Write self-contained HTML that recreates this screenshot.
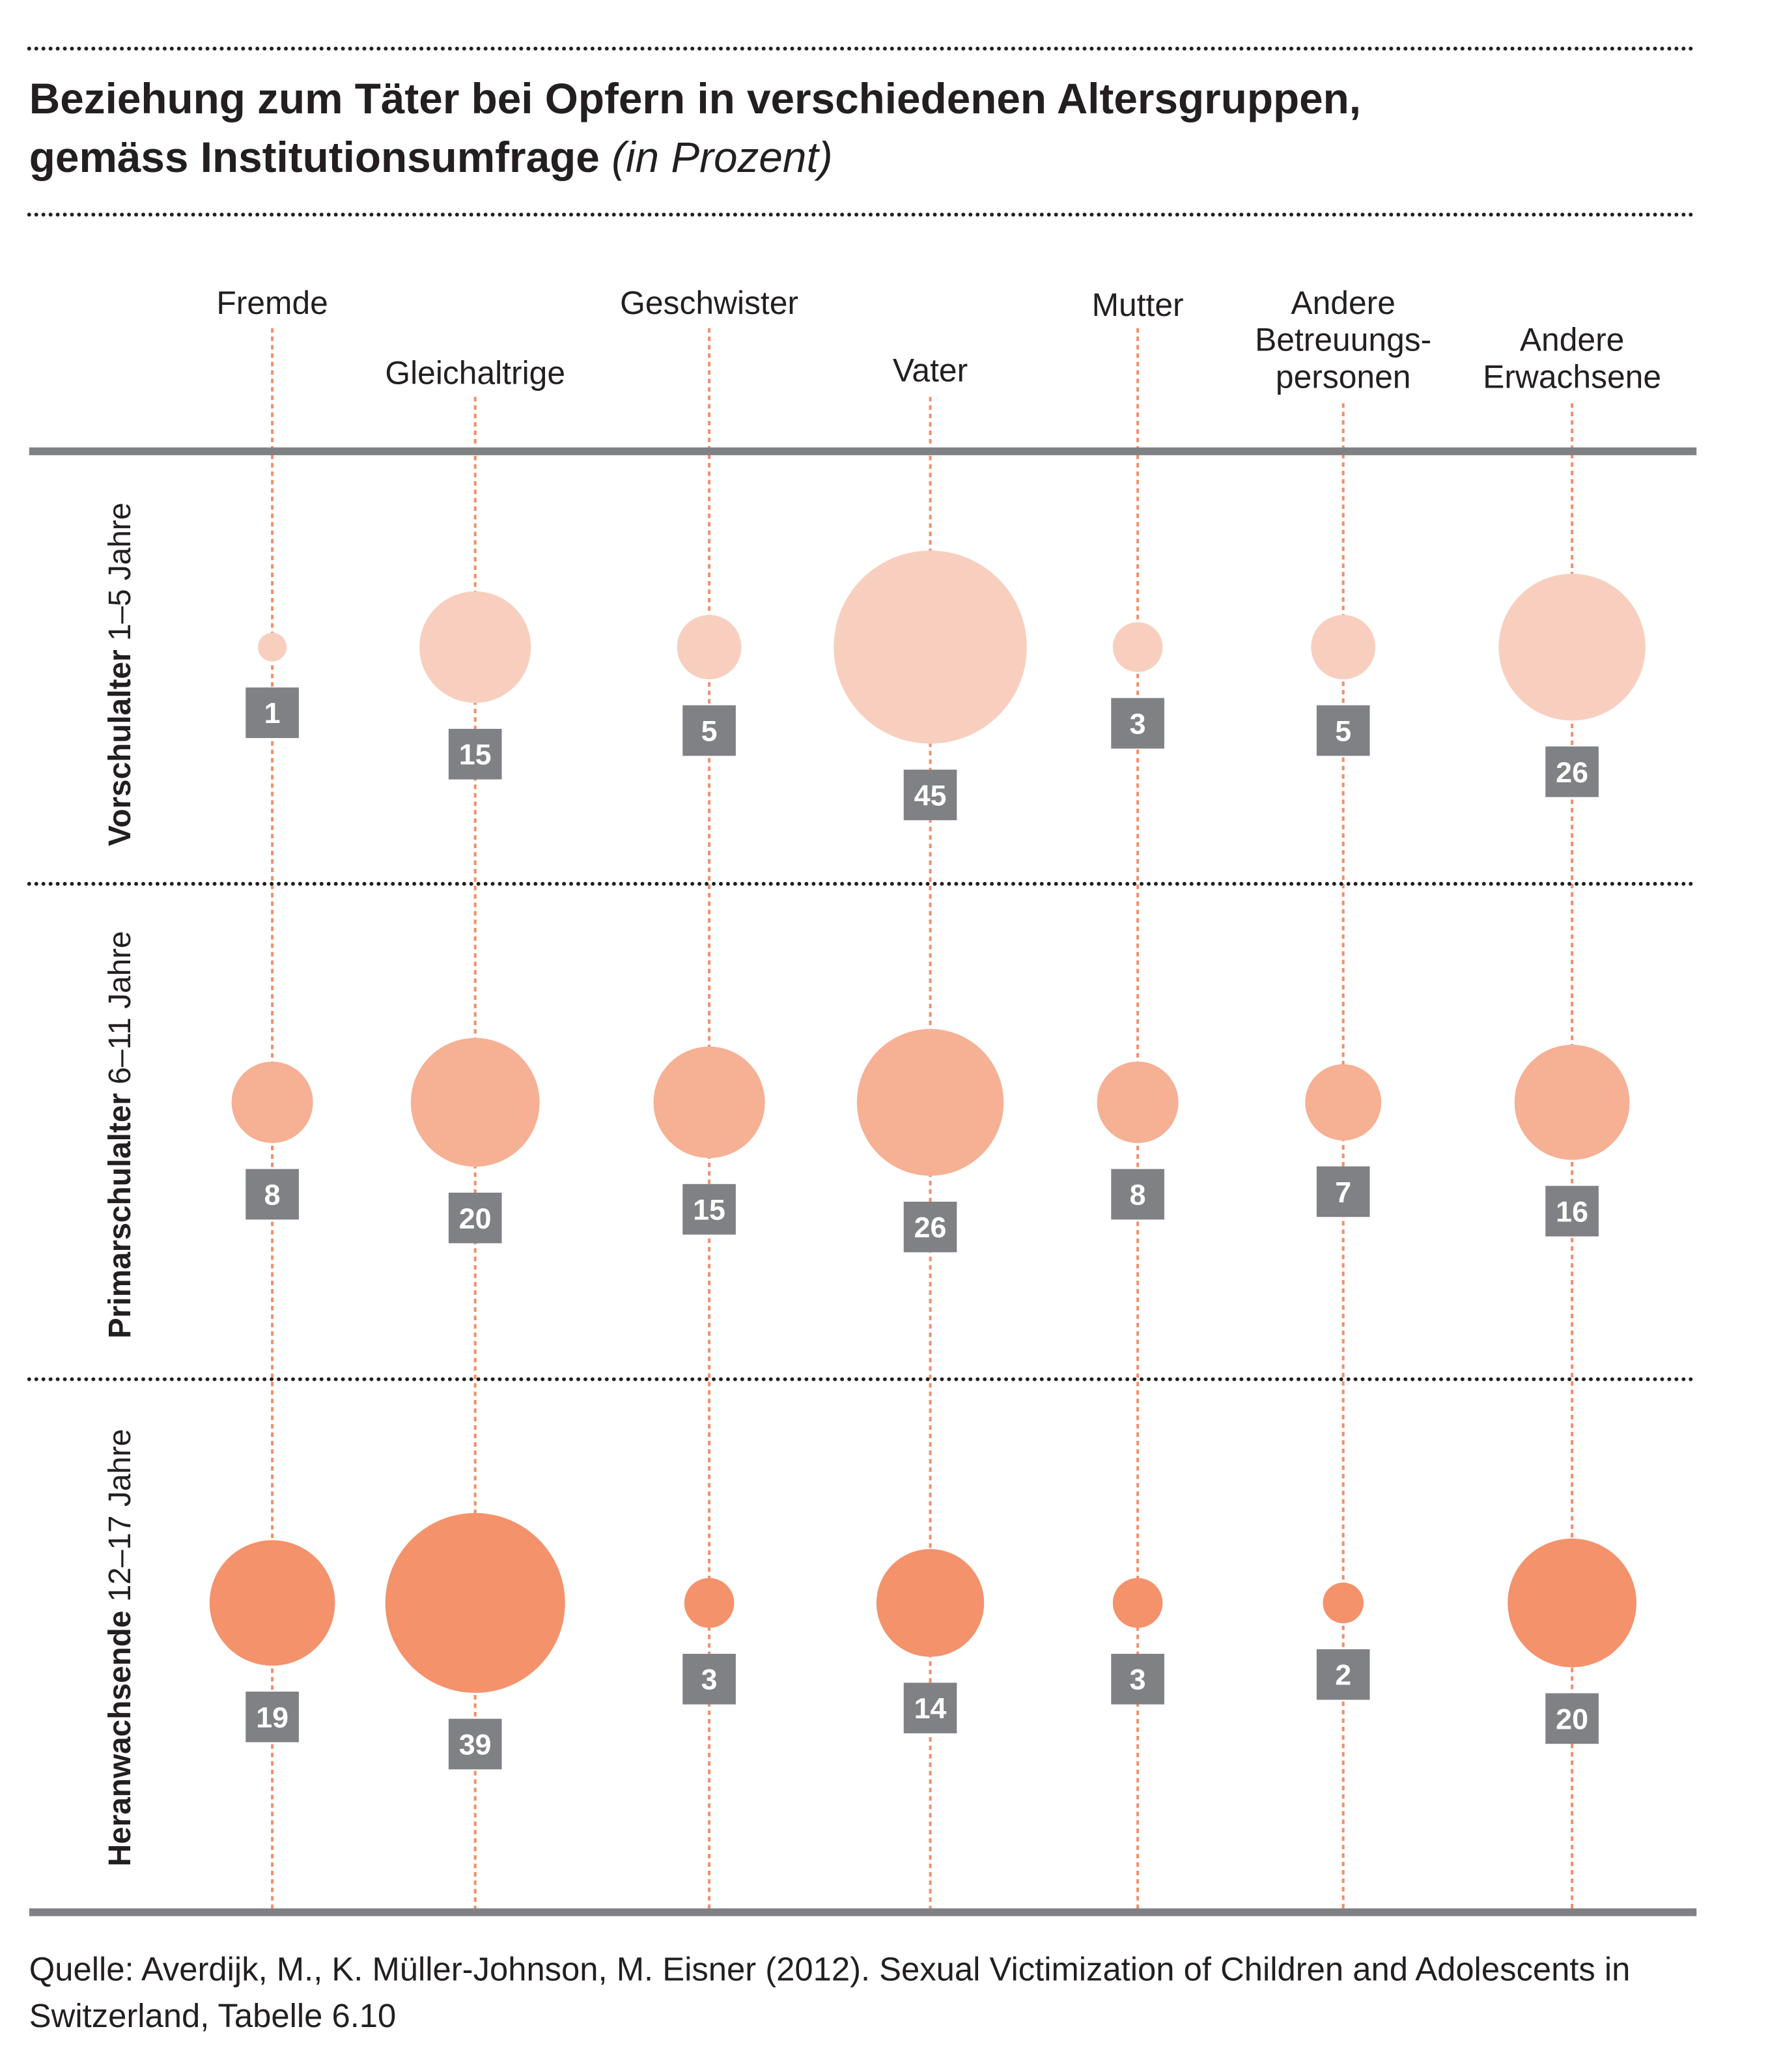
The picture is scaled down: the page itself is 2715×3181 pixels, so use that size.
<!DOCTYPE html>
<html><head><meta charset="utf-8">
<style>
html,body{margin:0;padding:0;background:#fff}
svg{display:block;font-family:"Liberation Sans",sans-serif}
</style></head>
<body>
<svg id="chart" width="2715" height="3181" viewBox="0 0 2715 3181" xmlns="http://www.w3.org/2000/svg">
<g transform="scale(0.9955)">
<line x1="45" y1="75" x2="2617" y2="75" stroke="#231f20" stroke-width="6" stroke-dasharray="0 11" stroke-linecap="round"/>
<text x="45" y="175" font-size="66" font-weight="bold" fill="#231f20">Beziehung zum Täter bei Opfern in verschiedenen Altersgruppen,</text>
<text x="45" y="265" font-size="66" font-weight="bold" fill="#231f20">gemäss Institutionsumfrage <tspan font-weight="normal" font-style="italic">(in Prozent)</tspan></text>
<line x1="45" y1="331" x2="2617" y2="331" stroke="#231f20" stroke-width="6" stroke-dasharray="0 11" stroke-linecap="round"/>
<g id="g"></g>
<text x="45" y="3054" font-size="51" fill="#231f20">Quelle: Averdijk, M., K. Müller-Johnson, M. Eisner (2012). Sexual Victimization of Children and Adolescents in</text>
<text x="45" y="3126" font-size="51" fill="#231f20">Switzerland, Tabelle 6.10</text>
</g>
</svg>
<script>
const categories = ["Fremde","Gleichaltrige","Geschwister","Vater","Mutter","Andere Betreuungspersonen","Andere Erwachsene"];
const ageGroups = ["Vorschulalter","Primarschulalter","Heranwachsende"];
const ageRanges = ["1–5 Jahre","6–11 Jahre","12–17 Jahre"];
const preschool = [1,15,5,45,3,5,26];
const primary = [8,20,15,26,8,7,16];
const teens = [19,39,3,14,3,2,20];
const series = [preschool, primary, teens];

const NS = "http://www.w3.org/2000/svg";
const g = document.getElementById('g');
function mk(t, a){const e=document.createElementNS(NS,t);for(const k in a)e.setAttribute(k,a[k]);g.appendChild(e);return e;}
const colX = [420,733,1094,1435,1755,2072,2425];
const x = i => colX[i];
const rowY = [998,1700,2472];
const y = r => rowY[r];
const rScale = v => 22.2*Math.sqrt(v);
const fills = ["#f8cfbf","#f6b094","#f4926c"];
const headerLines = [["Fremde"],["Gleichaltrige"],["Geschwister"],["Vater"],["Mutter"],["Andere","Betreuungs-","personen"],["Andere","Erwachsene"]];
const headerTop = [467,575,467,571,470,467,524];
const lineStart = [506,612,506,612,506,622,622];

categories.forEach((c,i)=>{
  const t = mk('text',{x:x(i),'text-anchor':'middle','font-size':50,fill:'#231f20'});
  
  
  headerLines[i].forEach((ln,j)=>{const ts=document.createElementNS(NS,'tspan');ts.setAttribute('x',x(i));ts.setAttribute('y',headerTop[i]+17+j*57);ts.textContent=ln;t.appendChild(ts);});
  const l = mk('line',{x1:x(i),x2:x(i),y1:lineStart[i],y2:2949,stroke:'#f0906c','stroke-width':4,'stroke-dasharray':'7 6'});
  
  
});
let e = mk('rect',{x:45,y:690,width:2572,height:12,fill:'#808184'});


e = mk('rect',{x:45,y:2943,width:2572,height:12,fill:'#808184'});


[1363,2127].forEach((yy,k)=>{
  const d = mk('line',{x1:45,x2:2617,y1:yy,y2:yy,stroke:'#231f20','stroke-width':6,'stroke-dasharray':'0 11','stroke-linecap':'round'});
  
  
});
const rowLabelY = [1040,1750,2541];
ageGroups.forEach((a,r)=>{
  const t = mk('text',{x:0,y:0,'font-size':48,fill:'#231f20','text-anchor':'middle',transform:`translate(201 ${rowLabelY[r]}) rotate(-90)`});
  
  
  t.innerHTML = `<tspan font-weight="bold">${a}</tspan> ${ageRanges[r]}`;
});
series.forEach((vals,r)=>{
  vals.forEach((v,i)=>{
    const rad = rScale(v);
    const c = mk('circle',{cx:x(i),cy:y(r),r:rad,fill:fills[r]});
    
    
    const by = y(r)+rad+40;
    const b = mk('rect',{x:x(i)-41,y:by,width:82,height:78,fill:'#808184'});
    
    
    const t = mk('text',{x:x(i),y:by+55,'text-anchor':'middle','font-size':45,'font-weight':'bold',fill:'#fff'});
    
    
    t.textContent = v;
  });
});
</script>
</body></html>
